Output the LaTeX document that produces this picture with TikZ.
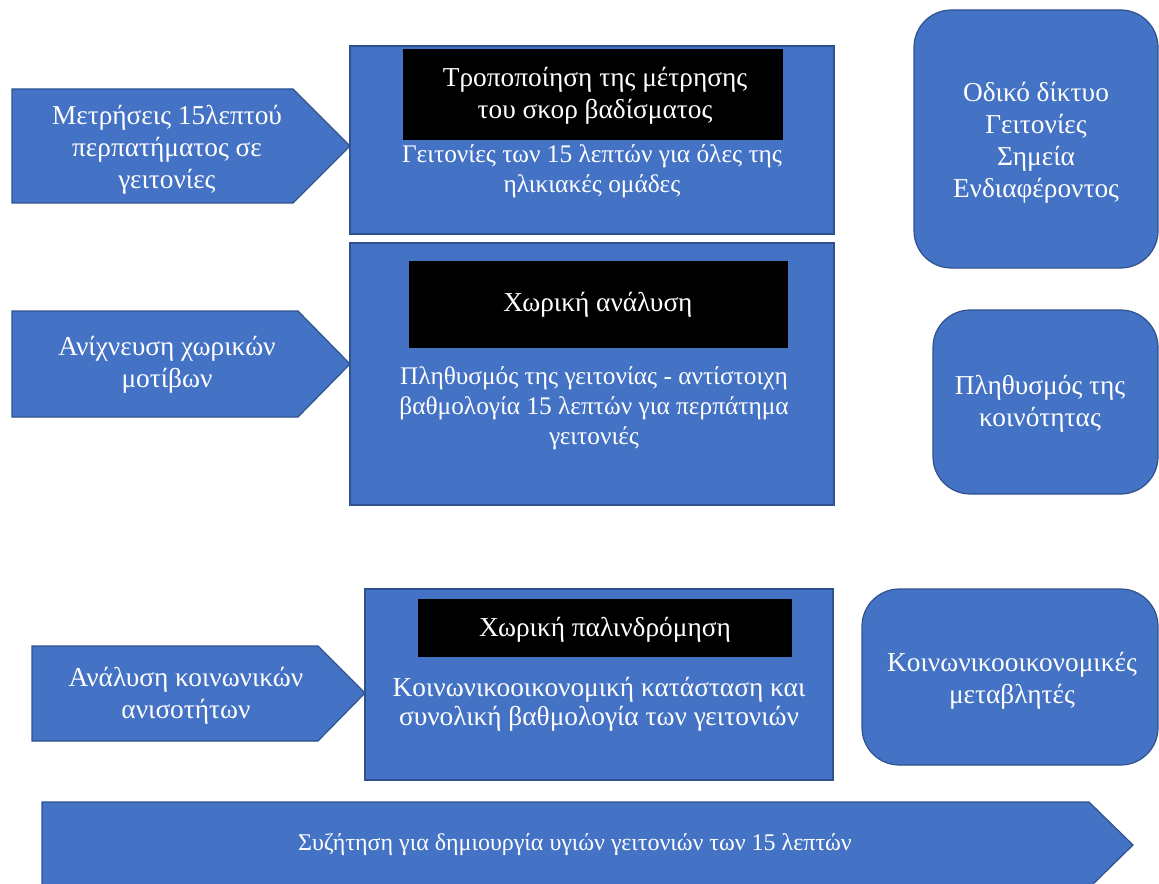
\documentclass[tikz,border=0pt]{standalone}
\usepackage{fontspec}
\setmainfont{Liberation Serif}
\usetikzlibrary{positioning}
\definecolor{boxblue}{RGB}{68,114,196}
\definecolor{edgeblue}{RGB}{47,82,143}

\begin{document}
\begin{tikzpicture}[x=0.75pt, y=-0.75pt,
    panel/.style={draw=edgeblue, fill=boxblue, line width=0.9pt},
    soft/.style={panel, rounded corners=28pt},
    bar/.style={fill=black},
    label/.style={text=white, align=center, inner sep=0pt,
                  font=\fontsize{20.5}{24}\selectfont},
    body/.style={label, font=\fontsize{19}{22.5}\selectfont},
    small/.style={label, font=\fontsize{18}{20}\selectfont}]
    \useasboundingbox (0,0) rectangle (1159,884);
    \clip (0,0) rectangle (1159,884);
    % middle column
    \path[panel] (350,46) rectangle (834,234);
    \path[panel] (350,243) rectangle (834,505);
    \path[panel] (365,589) rectangle (833,780);
    \path[bar] (403,49) rectangle (783,140);
    \path[bar] (409,261) rectangle (788,348);
    \path[bar] (418,599) rectangle (792,657);
    % left arrows
    \path[panel] (12,89) -- (293,89) -- (350,146) -- (293,203) -- (12,203) -- cycle;
    \path[panel] (12,311) -- (298,311) -- (350,364) -- (298,417) -- (12,417) -- cycle;
    \path[panel] (32,646) -- (318,646) -- (365,693) -- (318,741) -- (32,741) -- cycle;
    % right column
    \path[soft] (914,10) rectangle (1158,268);
    \path[soft] (933,310) rectangle (1158,494);
    \path[soft] (862,589) rectangle (1158,765);
    % bottom arrow
    \path[panel] (42,802) -- (1089,802) -- (1133,845) -- (1089,888) -- (42,888) -- cycle;

    \node[label] (meas) at (167,150) {Μετρήσεις 15λεπτού\\περπατήματος σε\\γειτονίες};
    \node[label] (detect) at (167,365) {Ανίχνευση χωρικών\\μοτίβων};
    \node[label] (ineq) at (186,696) {Ανάλυση κοινωνικών\\ανισοτήτων};

    \node[label] (modify) at (595,96) {Τροποποίηση της μέτρησης\\του σκορ βαδίσματος};
    \node[body] (ages) at (592,171) {Γειτονίες των 15 λεπτών για όλες της\\ηλικιακές ομάδες};
    \node[label] (spatial) at (598,305) {Χωρική ανάλυση};
    \node[body] (popscore) at (594,408) {Πληθυσμός της γειτονίας - αντίστοιχη\\βαθμολογία 15 λεπτών για περπάτημα\\γειτονιές};
    \node[label] (regress) at (605,630) {Χωρική παλινδρόμηση};
    \node[label, font=\fontsize{20.5}{21.5}\selectfont] (status) at (599,704) {Κοινωνικοοικονομική κατάσταση και\\συνολική βαθμολογία των γειτονιών};

    \node[label] (network) at (1036,143) {Οδικό δίκτυο\\Γειτονίες\\Σημεία\\Ενδιαφέροντος};
    \node[label] (commpop) at (1040,404) {Πληθυσμός της\\κοινότητας};
    \node[label] (socvars) at (1012,681) {Κοινωνικοοικονομικές\\μεταβλητές};

    \node[small] (discuss) at (575,845) {Συζήτηση για δημιουργία υγιών γειτονιών των 15 λεπτών};
\end{tikzpicture}
\end{document}
